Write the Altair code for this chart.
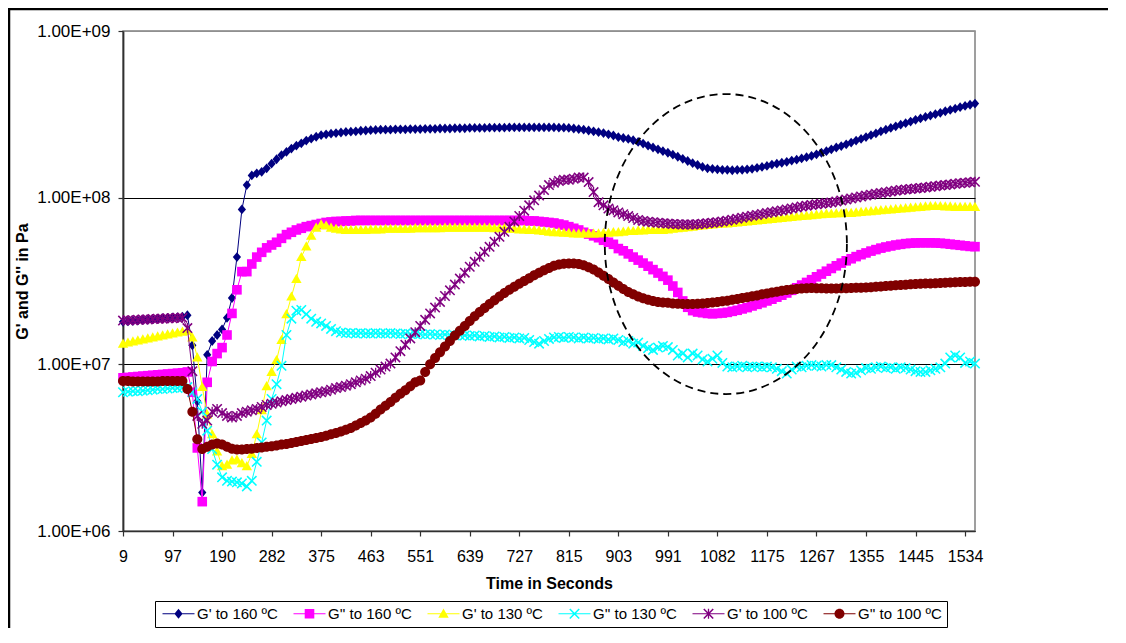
import altair as alt
import pandas as pd

# ---------------- data ----------------
TIME_LABELS = ["9", "97", "190", "282", "375", "463", "551", "639", "727", "815",
               "903", "991", "1082", "1175", "1267", "1355", "1445", "1534"]
SERIES = ["G' to 160 ºC", "G'' to 160 ºC", "G' to 130 ºC",
          "G'' to 130 ºC", "G' to 100 ºC", "G'' to 100 ºC"]
COLORS = ["#000080", "#FF00FF", "#FFFF00", "#00FFFF", "#800080", "#800000"]
Y_TICKS = [1e6, 1e7, 1e8, 1e9]

# moduli in units of 1e6 Pa, one value per recorded sample (sample 0 .. 172)
G1_160 = [18.0, 18.1, 18.2, 18.3, 18.4, 18.5, 18.6, 18.8, 18.9, 19.0,
          19.1, 19.2, 19.3, 19.7, 13.0, 6.0, 1.7, 11.4, 13.8, 15.0,
          16.2, 19.0, 25.0, 44.0, 85.0, 119, 136, 140, 143, 150,
          160, 170, 180, 188, 197, 205, 212, 220, 226, 232,
          237, 240, 242, 244, 246, 248, 249, 250, 252, 253,
          254, 255, 256, 256, 256, 257, 257, 257, 258, 258,
          258, 259, 259, 259, 260, 260, 260, 261, 261, 261,
          262, 262, 262, 262, 263, 263, 263, 263, 264, 264,
          264, 264, 264, 264, 264, 264, 264, 264, 263, 263,
          262, 260, 258, 256, 253, 250, 247, 244, 240, 236,
          231, 228, 225, 221, 216, 211, 205, 200, 195, 190,
          186, 181, 176, 171, 166, 161, 157, 153, 150, 149,
          148, 147, 147, 146, 147, 147, 148, 149, 151, 153,
          155, 158, 160, 162, 164, 167, 169, 172, 175, 178,
          182, 186, 190, 195, 200, 204, 209, 214, 220, 225,
          231, 237, 243, 250, 256, 262, 268, 274, 280, 286,
          293, 299, 305, 311, 317, 323, 330, 336, 342, 349,
          355, 361, 367]
G2_160 = [8.3, 8.35, 8.4, 8.45, 8.5, 8.55, 8.6, 8.65, 8.7, 8.75,
          8.8, 8.85, 8.9, 9.0, 6.8, 3.15, 1.5, 7.8, 10.4, 11.6,
          12.6, 15.0, 20.2, 28.0, 36.0, 36.0, 40.0, 44.0, 47.0, 50.0,
          52.0, 54.0, 57.0, 60.0, 62.0, 64.0, 65.5, 67.0, 68.0, 69.0,
          70.0, 71.0, 71.5, 72.0, 72.0, 72.5, 72.5, 73.0, 73.0, 73.0,
          73, 73, 73, 73, 73, 73, 73, 73, 73, 73,
          73, 73, 73, 73, 73, 73, 73, 73, 73, 73,
          73, 73, 73, 73, 73, 73, 73, 73, 73, 73,
          73, 73, 72.5, 72.5, 72, 71.5, 71, 70.5, 69.5, 68.5,
          67, 65.5, 64, 62, 60.5, 59, 57.5, 55.5, 54, 52.5,
          49.5, 48, 46, 44, 42.2, 40.5, 38.8, 37, 35.3, 33.7,
          32, 29.5, 27, 24, 22, 21, 20.6, 20.4, 20.2, 20.1,
          20.2, 20.3, 20.5, 20.8, 21.1, 21.5, 21.9, 22.4, 22.9, 23.4,
          24, 24.6, 25.3, 26, 26.8, 27.8, 28.8, 29.9, 31, 32.2,
          33.5, 34.8, 36.2, 37.6, 39, 40.5, 41.8, 43, 44.3, 45.5,
          46.6, 47.8, 48.8, 49.8, 50.6, 51.3, 52, 52.5, 53, 53.3,
          53.5, 53.6, 53.6, 53.6, 53.5, 53.3, 53, 52.6, 52.2, 51.8,
          51.4, 51, 50.8]
G1_130 = [13.3, 13.5, 13.7, 13.9, 14.1, 14.3, 14.5, 14.7, 14.9, 15.1,
          15.3, 15.5, 15.7, 15.9, 14.5, 11.0, 7.3, 5.0, 3.8, 3.0,
          2.45, 2.5, 2.65, 2.68, 2.55, 2.45, 2.9, 3.8, 5.3, 7.4,
          9.0, 10.6, 14.0, 20.0, 25.5, 32.5, 44, 51, 59, 66,
          69, 68, 66, 65, 64.5, 64, 64, 64, 64, 64,
          64.5, 64.5, 64.5, 65, 65, 65, 65, 65, 65, 65.5,
          65.5, 65.5, 65.5, 65.5, 65.5, 66, 66, 66, 66, 66,
          66, 66, 66, 66, 66, 65.5, 65.5, 65.5, 65, 65,
          64.5, 64.5, 64, 64, 63.5, 63, 62.5, 62, 62, 61.5,
          61.5, 61, 61, 61, 61, 61, 61, 61.5, 61.5, 62,
          62, 62.5, 63, 63, 63.5, 63.5, 64, 64, 64, 64,
          64.5, 65, 65.5, 66, 66.5, 67, 67.5, 68, 68.5, 69,
          69.5, 70, 70, 70.5, 71, 71.5, 72, 72.5, 73, 73.5,
          74, 74.5, 75, 75.5, 76, 76.5, 77, 77.5, 78, 78.5,
          79, 79.5, 80, 80, 80.5, 80.5, 81, 81, 81.5, 82,
          82.5, 83, 83.5, 84, 84.5, 85, 85.5, 86, 86.5, 87,
          87.5, 88, 88.5, 89, 89, 89, 88.5, 88.5, 88, 88,
          88, 88, 88]
G2_130 = [6.8, 6.85, 6.9, 6.9, 6.95, 7.0, 7.05, 7.1, 7.1, 7.15,
          7.2, 7.2, 7.25, 7.3, 6.8, 6.2, 5.2, 4.0, 3.1, 2.5,
          2.1, 2.0, 1.98, 1.96, 1.93, 1.85, 2.0, 2.6, 3.4, 4.6,
          6.2, 7.6, 9.8, 15.0, 18.8, 21.0, 21.2, 20.0, 18.8, 18.0,
          17.6, 17.0, 16.3, 15.8, 15.5, 15.4, 15.4, 15.3, 15.4, 15.3,
          15.3, 15.4, 15.3, 15.3, 15.4, 15.3, 15.2, 15.3, 15.2, 15.2,
          15.2, 15.1, 15.2, 15.1, 15.0, 15.1, 15.0, 14.9, 15.0, 14.9,
          14.8, 14.9, 14.7, 14.8, 14.6, 14.7, 14.5, 14.6, 14.4, 14.5,
          14.3, 14.4, 14.0, 13.6, 13.3, 13.8, 14.2, 14.5, 14.6, 14.4,
          14.6, 14.5, 14.3, 14.5, 14.3, 14.4, 14.2, 14.3, 14.1, 14.3,
          14.0, 13.6, 13.8, 13.3, 13.5, 12.9, 12.5, 12.2, 12.6, 12.9,
          12.7, 12.2, 11.3, 11.6, 11.0, 11.6, 11.3, 10.7, 10.4, 10.8,
          11.3, 10.2, 9.7, 9.6, 9.7, 9.8, 9.6, 9.7, 9.7, 9.6,
          9.7, 9.6, 9.4, 9.1, 8.8, 9.3, 9.7, 9.6, 9.8, 9.9,
          9.8, 9.7, 9.9, 9.9, 9.6, 9.3, 9.0, 8.8, 8.9, 9.2,
          9.5, 9.4, 9.6, 9.7, 9.5, 9.6, 9.4, 9.6, 9.5, 9.3,
          9.1, 9.0, 9.0, 9.2, 9.4, 9.6, 10.1, 11.0, 11.3, 11.0,
          10.2, 10.4, 10.1]
G1_100 = [18.3, 18.4, 18.4, 18.5, 18.6, 18.6, 18.7, 18.8, 18.8, 18.9,
          18.9, 19.0, 19.0, 16.5, 9.1, 4.9, 4.4, 4.6, 5.2, 5.4,
          5.1, 4.9, 4.8, 4.9, 5.1, 5.2, 5.3, 5.4, 5.55, 5.7,
          5.8, 5.9, 6.0, 6.1, 6.2, 6.3, 6.4, 6.5, 6.6, 6.7,
          6.8, 6.9, 7.05, 7.2, 7.3, 7.45, 7.6, 7.8, 8.0, 8.2,
          8.5, 8.9, 9.3, 9.7, 10.1, 11.0, 12.0, 13.1, 14.3, 15.6,
          17.0, 18.5, 20.2, 21.9, 23.7, 25.7, 27.8, 30.1, 32.7, 35.5,
          38.5, 41.2, 44.2, 47.3, 50.7, 54.3, 58.2, 62.4, 66.8, 71.9,
          77.6, 83.6, 90.0, 96.4, 103, 111, 119, 123, 126, 128,
          128, 130, 132, 132, 124, 108, 94, 90, 86, 84,
          81.5, 79.5, 77.5, 75.5, 73.5, 72.5, 71.8, 71.2, 70.7, 70.2,
          69.9, 69.6, 69.3, 69.1, 69.0, 69.0, 69.3, 69.8, 70.3, 70.8,
          71.3, 72.0, 72.8, 73.8, 74.8, 75.8, 76.8, 77.8, 78.8, 79.8,
          80.8, 81.8, 82.8, 83.8, 85.0, 86.2, 87.4, 88.5, 89.5, 90.5,
          91.3, 92.0, 92.8, 93.7, 95.0, 96.3, 97.6, 99.0, 100.3, 101.6,
          103, 104.2, 105.4, 106.6, 107.8, 109, 110.2, 111.2, 112, 112.8,
          113.6, 114.4, 115.2, 116.2, 117.2, 118.2, 119, 120, 121, 122,
          122.8, 123.6, 124.5]
G2_100 = [7.95, 7.95, 7.9, 7.9, 7.9, 7.9, 7.9, 7.9, 7.95, 7.95,
          7.95, 7.95, 7.95, 7.1, 5.2, 3.55, 3.1, 3.2, 3.3, 3.35,
          3.3, 3.2, 3.12, 3.08, 3.08, 3.1, 3.12, 3.15, 3.17, 3.2,
          3.23, 3.26, 3.3, 3.33, 3.37, 3.42, 3.47, 3.52, 3.57, 3.62,
          3.67, 3.73, 3.8, 3.87, 3.95, 4.05, 4.15, 4.3, 4.45, 4.6,
          4.8, 5.05, 5.35, 5.65, 5.95, 6.3, 6.65, 7.0, 7.4, 7.8,
          8.0, 9.0, 10.0, 10.9, 11.8, 12.8, 13.8, 14.9, 15.9, 17.0,
          18.2, 19.4, 20.6, 21.8, 23.0, 24.2, 25.5, 26.8, 28.0, 29.2,
          30.4, 31.6, 32.9, 34.2, 35.5, 36.7, 37.9, 39.0, 39.7, 40.2,
          40.3, 40.3, 40.0, 39.3, 38.3, 37.1, 35.6, 34.0, 32.5, 31.0,
          29.6, 28.3, 27.2, 26.3, 25.5, 24.9, 24.4, 24.0, 23.7, 23.5,
          23.4, 23.2, 23.1, 23.0, 23.0, 23.0, 23.1, 23.2, 23.3, 23.5,
          23.7, 23.9, 24.1, 24.4, 24.7, 25.0, 25.3, 25.6, 25.9, 26.3,
          26.6, 27.0, 27.3, 27.6, 27.9, 28.1, 28.3, 28.5, 28.6, 28.7,
          28.6, 28.6, 28.5, 28.5, 28.5, 28.6, 28.6, 28.7, 28.8, 28.8,
          28.9, 29.0, 29.2, 29.3, 29.5, 29.6, 29.8, 29.9, 30.0, 30.2,
          30.3, 30.4, 30.5, 30.6, 30.7, 30.8, 30.9, 31.0, 31.1, 31.2,
          31.2, 31.3, 31.3]

# dashed ellipse annotation: centre (sample index, Pa)
ELLIPSE_CENTER = {"idx": [121.7], "value": [5.27e7]}

SERIES_VALUES = [G1_160, G2_160, G1_130, G2_130, G1_100, G2_100]

rows = []
for name, vals in zip(SERIES, SERIES_VALUES):
    for i, v in enumerate(vals):
        rows.append({"series": name, "idx": i, "value": v * 1e6})
df = pd.DataFrame(rows)
N_LAST = max(len(v) for v in SERIES_VALUES) - 1

# ---------------- marker shapes (pixel geometry -> symbol paths) ----------------
K = 0.5523


def poly(pts, s, dx=0.0):
    return "M" + " L".join(f"{(x + dx) / s:.3f},{y / s:.3f}" for x, y in pts) + " Z"


def ellipse(rx, ry, s, dx=0.0):
    def p(x, y):
        return f"{(x + dx) / s:.3f},{y / s:.3f}"
    return ("M" + p(rx, 0) +
            " C" + p(rx, K * ry) + " " + p(K * rx, ry) + " " + p(0, ry) +
            " C" + p(-K * rx, ry) + " " + p(-rx, K * ry) + " " + p(-rx, 0) +
            " C" + p(-rx, -K * ry) + " " + p(-K * rx, -ry) + " " + p(0, -ry) +
            " C" + p(K * rx, -ry) + " " + p(rx, -K * ry) + " " + p(rx, 0) + " Z")


A, D, W = 4.7, 0.55, 0.65
BAR1 = [(-A + D, -A - D), (A + D, A - D), (A - D, A + D), (-A - D, -A + D)]
BAR2 = [(A - D, -A - D), (A + D, -A + D), (-A + D, A + D), (-A - D, A - D)]
VBAR = [(-W, -5.0), (W, -5.0), (W, 5.0), (-W, 5.0)]
MARKERS = [
    ("poly", [[(0, -4.9), (4.1, 0), (0, 4.9), (-4.1, 0)]]),
    ("poly", [[(-4.8, -4.8), (4.8, -4.8), (4.8, 4.8), (-4.8, 4.8)]]),
    ("poly", [[(0, -5.2), (5.2, 4.0), (-5.2, 4.0)]]),
    ("poly", [BAR1, BAR2]),
    ("poly", [BAR1, BAR2, VBAR]),
    ("circle", 5.0),
]
UNIT = 5.0  # px per path unit for symbol size 100


def marker_path(m, dx=0.0):
    kind, geom = m
    if kind == "circle":
        return ellipse(geom, geom, UNIT, dx)
    return " ".join(poly(p, UNIT, dx) for p in geom)


PLOT_SHAPES = [marker_path(m) for m in MARKERS]
LINE_SEG = [(-5, -0.6), (27, -0.6), (27, 0.6), (-5, 0.6)]
LEGEND_SHAPES = [poly(LINE_SEG, UNIT) + " " + marker_path(m, 11) for m in MARKERS]
ELLIPSE_PATH = ellipse(121, 150, 150.0)

# ---------------- encodings ----------------
label_expr = "[" + ",".join(f"'{t}'" for t in TIME_LABELS) + "][round(datum.value/10)]"
x_enc = alt.X("idx:Q", scale=alt.Scale(domain=[0, N_LAST], nice=False, zero=False),
              axis=alt.Axis(values=list(range(0, 10 * len(TIME_LABELS), 10)),
                            labelExpr=label_expr, grid=False, labelFlush=False,
                            labelOverlap=False, tickSize=5, labelPadding=12,
                            labelFontSize=16, title="Time in Seconds",
                            titleFontSize=16, titleFontWeight="bold",
                            titleY=52, titleBaseline="middle",
                            domainColor="#303030", tickColor="#303030",
                            domainWidth=1.5, tickWidth=1.2))
y_enc = alt.Y("value:Q", scale=alt.Scale(type="log", domain=[Y_TICKS[0], Y_TICKS[-1]], nice=False),
              axis=alt.Axis(values=Y_TICKS, labelExpr="'1.00E+0' + round(log(datum.value)/LN10)",
                            grid=True,
                            gridColor={"condition": {"test": "datum.value >= 1e9", "value": "#909090"},
                                       "value": "black"},
                            gridWidth=1, labelFlush=False, tickSize=5, labelPadding=8,
                            labelFontSize=17, title="G' and G'' in Pa", titleFontSize=16,
                            titleFontWeight="bold", titleX=-101, titleBaseline="middle",
                            domainColor="#303030", tickColor="#303030",
                            domainWidth=1.8, tickWidth=1.2))

base = alt.Chart(df)
layers = []
for name, col, shp in zip(SERIES, COLORS, PLOT_SHAPES):
    sub = base.transform_filter(alt.datum.series == name)
    layers.append(sub.mark_line(color=col, strokeWidth=1).encode(x=x_enc, y=y_enc))
    layers.append(sub.mark_point(shape=shp, size=100, filled=True, color=col,
                                 opacity=1, strokeWidth=0).encode(x=x_enc, y=y_enc))

ellipse_layer = alt.Chart(pd.DataFrame(ELLIPSE_CENTER)).mark_point(
    shape=ELLIPSE_PATH, size=90000, filled=False, color="black", opacity=1,
    strokeWidth=1.8, strokeDash=[8, 5]).encode(x=x_enc, y=y_enc)

legend_kw = dict(orient="none", legendX=32, legendY=570, direction="horizontal",
                 columns=6, title=None, symbolSize=100, symbolStrokeWidth=0,
                 symbolOpacity=1, labelFont="Liberation Sans", labelFontSize=15,
                 labelColor="black", labelOffset=22, columnPadding=13, padding=5,
                 strokeColor="black", fillColor="white", labelLimit=300)
legend_layer = alt.Chart(pd.DataFrame({"series": SERIES})).mark_point(
    filled=True, size=100, opacity=1, strokeWidth=0, clip=True).encode(
    x=alt.value(-1000), y=alt.value(-1000),
    color=alt.Color("series:N", scale=alt.Scale(domain=SERIES, range=COLORS),
                    legend=alt.Legend(**legend_kw)),
    shape=alt.Shape("series:N", scale=alt.Scale(domain=SERIES, range=LEGEND_SHAPES),
                    legend=alt.Legend(**legend_kw)))

one = pd.DataFrame({"k": [0]})
border_left = alt.Chart(one).mark_rule(color="black", strokeWidth=2.5).encode(
    x=alt.value(-114), y=alt.value(-23), y2=alt.value(597))
border_top = alt.Chart(one).mark_rule(color="black", strokeWidth=2.5).encode(
    x=alt.value(-115), x2=alt.value(985), y=alt.value(-22))

chart = alt.layer(*layers, ellipse_layer, legend_layer, border_left, border_top).properties(
    width=852, height=500,
    padding={"left": 115, "top": 23, "right": 133, "bottom": 97},
    autosize=alt.AutoSizeParams(type="none"),
    background="white",
).configure_view(stroke="#808080", strokeWidth=1.5).configure_axis(
    labelFont="Liberation Sans", titleFont="Liberation Sans",
    labelColor="black", titleColor="black")

chart.save("out.html", embed_options={"renderer": "svg", "actions": False})
